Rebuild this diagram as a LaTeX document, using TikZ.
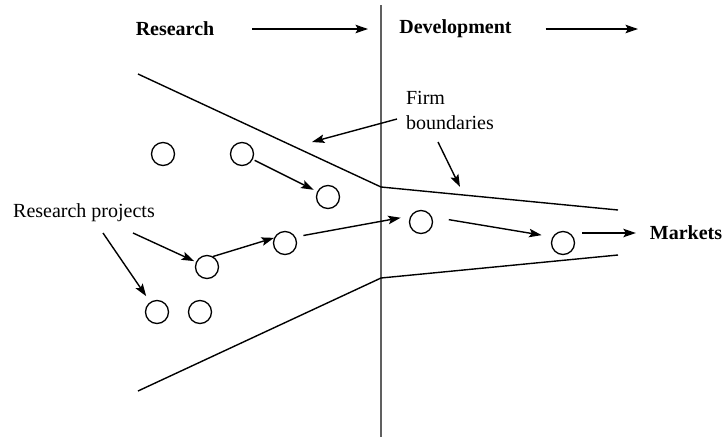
\documentclass[tikz,border=0pt]{standalone}
\usepackage{fontspec}
\setmainfont{Liberation Serif}
\usetikzlibrary{arrows.meta}

\begin{document}
\begin{tikzpicture}[x=1pt,y=-1pt,>={Stealth[length=12.5pt,width=8.5pt,inset=2.5pt]},
    line width=1.4pt,
    every node/.style={font=\fontsize{20}{25}\selectfont},
    proj/.style={circle,draw,line width=1.3pt,minimum size=23pt,inner sep=0pt},
    head/.style={font=\fontsize{20}{25}\selectfont\bfseries}]
  \useasboundingbox (0,0) rectangle (723,437);
  % phases
  \node[head] (res) at (175,29) {Research};
  \node[head] (dev) at (455.5,29) {Development};
  \coordinate (rend) at (368,29);
  \coordinate (dend) at (638,29);
  \draw[->,shorten <=34pt] (res.east) -- (rend);
  \draw[->,shorten <=30pt] (dev.east) -- (dend);
  \draw[gray!75!black,line width=1.7pt] (381,5) -- (381,437);
  % firm boundaries
  \coordinate (ub1) at (138,74);
  \coordinate (ub2) at (381,187);
  \coordinate (ub3) at (618,210);
  \coordinate (lb1) at (138,391);
  \coordinate (lb2) at (381,278);
  \coordinate (lb3) at (618,255);
  \draw (ub1) -- (ub2) -- (ub3);
  \draw (lb1) -- (lb2) -- (lb3);
  % projects
  \node[proj] (p1) at (163,154) {};
  \node[proj] (p2) at (242,154) {};
  \node[proj] (p3) at (328,197) {};
  \node[proj] (p4) at (207,267) {};
  \node[proj] (p5) at (285,243) {};
  \node[proj] (p6) at (157,312) {};
  \node[proj] (p7) at (200,312) {};
  \node[proj] (p8) at (421,222) {};
  \node[proj] (p9) at (563,243) {};
  \node[head] (mk) at (686,233) {Markets};
  \draw[->,shorten <=2pt,shorten >=4pt] (p2) -- (p3);
  \draw[->] (p4.60) -- (p5.155);
  \draw[->,shorten <=8pt,shorten >=10pt] (p5.30) -- (p8.150);
  \draw[->,shorten <=17pt,shorten >=11pt] (p8.25) -- (p9.150);
  \draw[->,shorten <=7pt,shorten >=10pt] (p9.east |- mk.west) -- (mk.west);
  % labels
  \node (rp) at (84,213) {Research projects};
  \coordinate (rp1) at (133,233);
  \coordinate (rp2) at (103,233);
  \draw[->,shorten >=2pt] (rp1) -- (p4);
  \draw[->,shorten >=7pt] (rp2) -- (p6);
  \node[align=left] (fb) at (450,110) {Firm\\boundaries};
  \coordinate (fb1) at (397,119);
  \coordinate (fb2) at (438,142);
  \coordinate (fe1) at (312,142);
  \coordinate (fe2) at (460,187);
  \draw[->] (fb1) -- (fe1);
  \draw[->] (fb2) -- (fe2);
\end{tikzpicture}
\end{document}
